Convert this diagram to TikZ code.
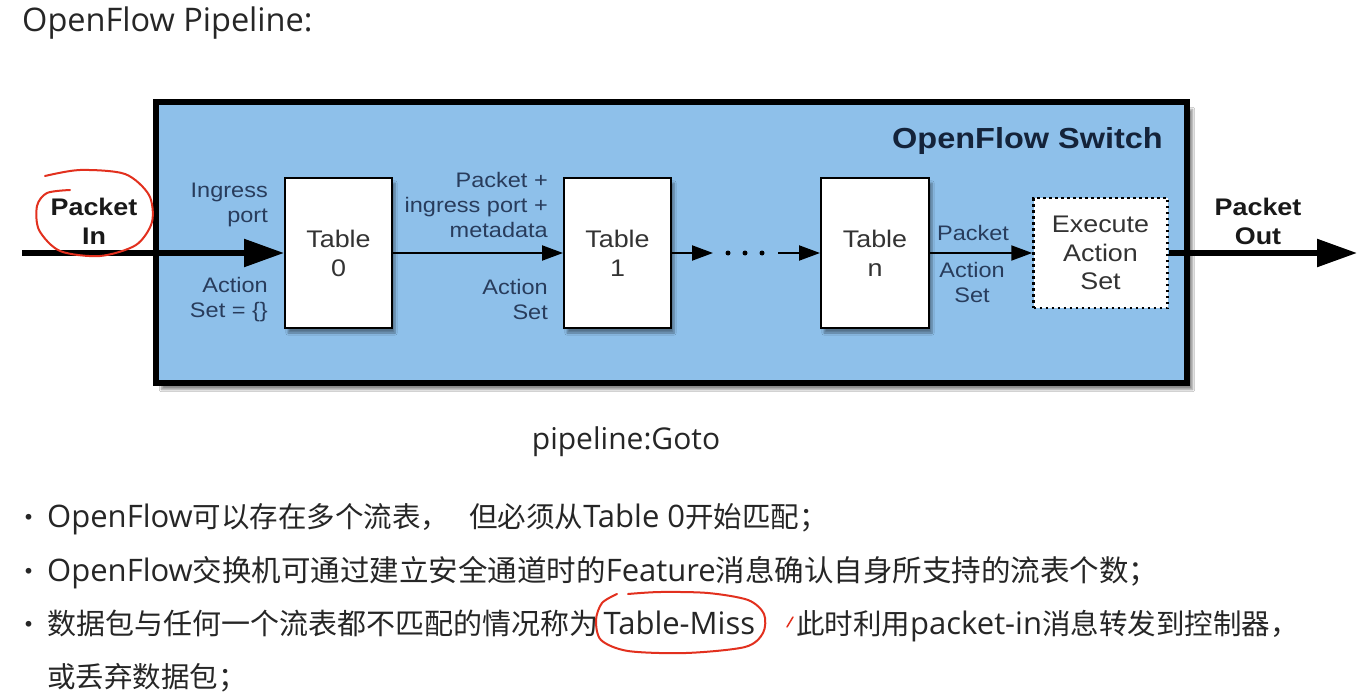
\documentclass[tikz,border=0pt]{standalone}
\usepackage{fontspec}
\setmainfont{Noto Sans CJK SC}
\newfontfamily\diagfont[FakeStretch=1.12]{Liberation Sans}
\newfontfamily\latinfont{Open Sans}
\newcommand\lat[1]{{\latinfont\fontsize{31}{36}\selectfont #1}}
\usetikzlibrary{arrows.meta,shadows.blur}

\definecolor{switchblue}{HTML}{8EC0EA}
\definecolor{labelnavy}{HTML}{283C5C}
\definecolor{titlenavy}{HTML}{14233A}
\definecolor{pen}{HTML}{E2301E}
\definecolor{slidetext}{HTML}{262626}

\tikzset{
  slide/.style={text=slidetext, inner sep=0pt, font=\fontsize{28.5}{34}\selectfont},
  switchbox/.style={draw=black, line width=6pt, fill=switchblue, minimum width=1031pt, minimum height=280pt,
    blur shadow={shadow xshift=6pt, shadow yshift=-7pt, shadow opacity=45, shadow blur steps=8}},
  tablebox/.style={draw=black, line width=2pt, fill=white, minimum width=107pt, minimum height=150pt,
    align=center, inner sep=0pt, text=black!80, font=\diagfont\fontsize{24}{29}\selectfont,
    blur shadow={shadow xshift=3pt, shadow yshift=-5pt, shadow opacity=40, shadow blur steps=6}},
  execbox/.style={draw=black, line width=2.5pt, dash pattern=on 2.5pt off 3.5pt, fill=white,
    minimum width=134pt, minimum height=110pt, align=center, inner sep=0pt, text=black!80,
    font=\diagfont\fontsize{24}{28.5}\selectfont},
  flowlabel/.style={text=labelnavy, inner sep=0pt, font=\diagfont\fontsize{21}{25}\selectfont},
  portlabel/.style={text=black!90, inner sep=0pt, align=center, font=\diagfont\bfseries\fontsize{24}{29}\selectfont},
  dotnode/.style={circle, fill=black, inner sep=0pt, minimum size=5pt},
  thinflow/.style={line width=2pt, -{Triangle[length=21pt,width=15pt]}},
  thickflow/.style={line width=5.5pt, -{Triangle[length=40pt,width=27pt]}},
  redpen/.style={draw=pen, line width=2pt, line cap=round, line join=round},
}

\begin{document}
\begin{tikzpicture}[x=1pt,y=-1pt]
  \useasboundingbox[fill=white] (0,0) rectangle (1364,698);

  % heading of the slide
  \node[slide, anchor=base west, font=\latinfont\fontsize{32.5}{36}\selectfont] (title) at (22,32) {OpenFlow Pipeline:};

  % the switch and its tables
  \node[switchbox] (switch) at (671,242.5) {};
  \node[anchor=east, inner sep=0pt, text=titlenavy, font=\diagfont\bfseries\fontsize{29}{32}\selectfont]
    (swname) at (1163,141) {OpenFlow Switch};

  \node[tablebox] (t0) at (338.5,253) {Table\\0};
  \node[tablebox] (t1) at (617.5,253) {Table\\1};
  \node[tablebox, minimum width=108pt] (tn) at (875,253) {Table\\n};
  \node[execbox] (exec) at (1100.5,253) {Execute\\Action\\Set};

  \foreach \x [count=\i] in {728,745,762}
    \node[dotnode] (d\i) at (\x,253) {};

  \coordinate (pktin) at (22,253);
  \coordinate (pktout) at (1357,253);
  \coordinate (dotsL) at (713,253);
  \coordinate (dotsR) at (778,253);

  % connectors
  \draw[thickflow] (pktin) -- (t0.west);
  \draw[thinflow] (t0.east) -- (t1.west);
  \draw[thinflow] (t1.east) -- (dotsL);
  \draw[thinflow] (dotsR) -- (tn.west);
  \draw[thinflow] (tn.east) -- (exec.west);
  \draw[thickflow] (exec.east) -- (pktout);

  % labels on the way
  \node[flowlabel, anchor=east, align=right] (ingress) at (268,205) {Ingress\\port};
  \node[flowlabel, anchor=east, align=right] (aset0) at (268,299.5) {Action\\Set = \{\}};
  \node[flowlabel, anchor=east, align=right] (meta) at (548,205) {Packet +\\ingress port +\\metadata};
  \node[flowlabel, anchor=east, align=right] (aset1) at (548,299.5) {Action\\Set};
  \node[flowlabel] (pktn) at (973,233) {Packet};
  \node[flowlabel, align=center] (asetn) at (972,282.5) {Action\\Set};

  \node[portlabel] (inlabel) at (94,221) {Packet\\In};
  \node[portlabel] (outlabel) at (1258,221) {Packet\\Out};

  % caption and bullets
  \node[slide, anchor=base, font=\latinfont\fontsize{30}{34}\selectfont] (caption) at (626,449) {pipeline:Goto};

  \foreach \y/\name in {527/b1,581/b2,634/b3}
    \node[slide, anchor=base, font=\fontsize{27}{30}\selectfont] (\name) at (29,\y) {•};

  \node[slide, anchor=base west] (line1) at (47,527)
    {\lat{OpenFlow}可以存在多个流表，\hspace{20pt}但必须从\lat{Table 0}开始匹配；};
  \node[slide, anchor=base west, font=\fontsize{29.5}{34}\selectfont] (line2) at (47,581)
    {\lat{OpenFlow}交换机可通过建立安全通道时的\lat{Feature}消息确认自身所支持的流表个数；};
  \node[slide, anchor=base west, font=\fontsize{29}{34}\selectfont] (line3a) at (47,634) {数据包与任何一个流表都不匹配的情况称为};
  \node[slide, anchor=base west] (miss) at ([xshift=5pt]line3a.base east) {\lat{Table-Miss}};
  \node[slide, anchor=base west] (line3b) at (796,634) {此时利用\lat{packet-in}消息转发到控制器，};
  \node[slide, anchor=base west] (line4) at (47,687) {或丢弃数据包；};

  % red pen marks
  \draw[redpen] plot[smooth] coordinates {(45,176) (80,170) (125,174) (149,195) (152,222) (136,245)
    (100,256) (60,251) (39,230) (37,206) (47,193) (70,190)};
  \draw[redpen] plot[smooth] coordinates {(617,594) (602,603) (596,620) (601,640) (628,651) (686,653)
    (745,647) (763,633) (764,614) (748,600) (708,593) (660,592) (628,594)};
  \draw[redpen, line width=1.5pt] (787,627) -- (793,617);
\end{tikzpicture}
\end{document}
